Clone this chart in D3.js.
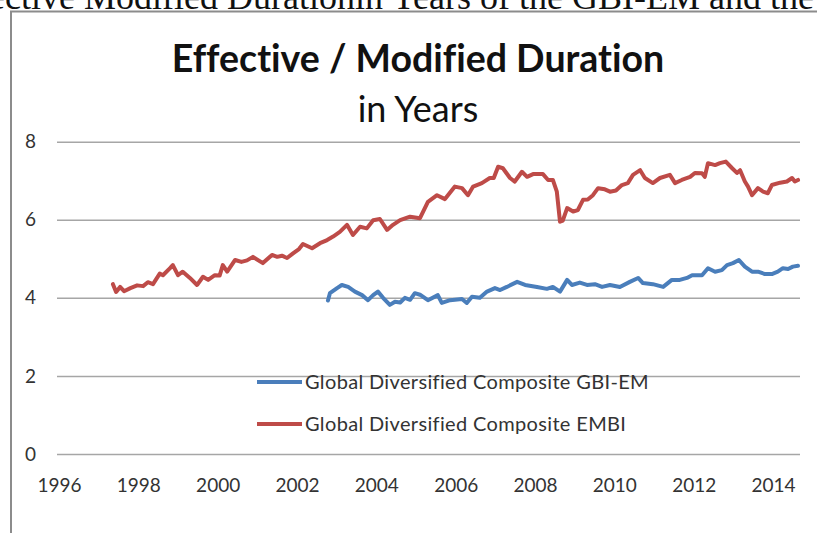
<!DOCTYPE html>
<html>
<head>
<meta charset="UTF-8">
<script src="https://d3js.org/d3.v7.min.js"></script>
<style>
  body { margin: 0; background: white; }
  text { font-family: Lato, "Open Sans", sans-serif; font-variant-ligatures: none; }
</style>
</head>
<body>
<svg id="chart" width="817" height="533"></svg>
<script>
// decimal years and durations
const embiYears = [1997.36,1997.44,1997.54,1997.64,1997.80,1997.97,1998.12,1998.24,1998.37,1998.54,1998.62,1998.80,1998.87,1999.00,1999.12,1999.30,1999.48,1999.63,1999.76,1999.93,2000.05,2000.13,2000.24,2000.44,2000.60,2000.74,2000.89,2001.14,2001.37,2001.50,2001.62,2001.75,2001.90,2002.05,2002.15,2002.38,2002.58,2002.76,2002.91,2003.08,2003.26,2003.41,2003.59,2003.76,2003.92,2004.09,2004.27,2004.42,2004.60,2004.85,2005.10,2005.30,2005.53,2005.73,2005.98,2006.16,2006.31,2006.44,2006.66,2006.86,2006.96,2007.07,2007.19,2007.37,2007.49,2007.67,2007.80,2007.95,2008.20,2008.33,2008.45,2008.55,2008.63,2008.70,2008.81,2008.96,2009.08,2009.21,2009.33,2009.46,2009.59,2009.76,2009.89,2010.04,2010.19,2010.34,2010.47,2010.65,2010.77,2010.97,2011.15,2011.40,2011.53,2011.70,2011.91,2012.03,2012.21,2012.28,2012.36,2012.54,2012.66,2012.81,2012.97,2013.09,2013.17,2013.29,2013.37,2013.47,2013.62,2013.75,2013.87,2013.97,2014.18,2014.35,2014.48,2014.55,2014.63];
const embiValues = [4.35,4.15,4.28,4.17,4.25,4.32,4.30,4.40,4.35,4.62,4.58,4.76,4.84,4.58,4.67,4.51,4.33,4.54,4.46,4.58,4.57,4.84,4.67,4.97,4.92,4.96,5.05,4.89,5.10,5.05,5.08,5.02,5.14,5.25,5.38,5.27,5.40,5.48,5.57,5.69,5.87,5.61,5.82,5.78,5.99,6.02,5.74,5.87,5.99,6.08,6.04,6.46,6.63,6.53,6.85,6.81,6.63,6.85,6.94,7.07,7.07,7.36,7.32,7.07,6.98,7.23,7.10,7.17,7.17,7.02,7.02,6.72,5.95,5.98,6.30,6.21,6.25,6.51,6.52,6.63,6.81,6.78,6.72,6.75,6.89,6.94,7.15,7.27,7.07,6.94,7.07,7.15,6.94,7.02,7.10,7.20,7.19,7.10,7.45,7.40,7.45,7.49,7.32,7.20,7.27,6.98,6.85,6.63,6.81,6.72,6.68,6.89,6.95,6.98,7.07,6.98,7.02];

const gbiYears = [2002.78,2002.83,2003.01,2003.13,2003.29,2003.46,2003.64,2003.79,2003.92,2004.04,2004.17,2004.34,2004.47,2004.60,2004.72,2004.85,2004.97,2005.10,2005.30,2005.55,2005.65,2005.86,2006.16,2006.28,2006.41,2006.61,2006.79,2006.99,2007.12,2007.29,2007.55,2007.75,2008.05,2008.30,2008.45,2008.63,2008.81,2008.93,2009.13,2009.31,2009.51,2009.69,2009.89,2010.14,2010.39,2010.60,2010.72,2010.97,2011.23,2011.45,2011.65,2011.83,2011.96,2012.21,2012.36,2012.54,2012.71,2012.84,2012.99,2013.14,2013.29,2013.47,2013.62,2013.80,2013.97,2014.12,2014.25,2014.38,2014.50,2014.63];
const gbiValues = [3.93,4.12,4.25,4.33,4.28,4.16,4.07,3.94,4.07,4.16,4.00,3.82,3.90,3.88,4.00,3.95,4.12,4.08,3.94,4.07,3.87,3.94,3.97,3.87,4.03,4.00,4.16,4.25,4.20,4.28,4.41,4.33,4.28,4.23,4.28,4.16,4.46,4.33,4.39,4.33,4.35,4.28,4.33,4.28,4.41,4.51,4.38,4.35,4.28,4.46,4.46,4.51,4.58,4.58,4.76,4.67,4.71,4.84,4.89,4.97,4.80,4.67,4.67,4.61,4.61,4.67,4.76,4.74,4.80,4.82];

const tickYears = [1996,1998,2000,2002,2004,2006,2008,2010,2012,2014];
const yTicks = [0,2,4,6,8];
const seriesNames = ["Global Diversified Composite GBI-EM", "Global Diversified Composite EMBI"];
const seriesColors = ["#4a7ebb", "#be4b48"];

const svg = d3.select("#chart");
const margin = { top: 141.7, right: 17, bottom: 79, left: 57 };
const width = 817, height = 533;

// page text above the chart (cut off at the top, as in the scan)
const pageText = svg.append("text")
    .attr("y", 9)
    .style("font-family", "'Liberation Serif', 'Times New Roman', serif")
    .style("font-size", "36px")
    .attr("fill", "#111");
const prefix = pageText.text("Effective Modified Durationin Years of the ").node().getComputedTextLength();
pageText.attr("x", 563 - prefix).text("Effective Modified Durationin Years of the GBI-EM and the EMBI");

// chart frame
svg.append("path")
    .attr("d", `M11,${height} V11.5 H${width}`)
    .attr("fill", "none")
    .attr("stroke", "#8c8c8c")
    .attr("stroke-width", 2);

const x = d3.scaleLinear().domain([1995.95, 2014.68]).range([margin.left, width - margin.right]);
const y = d3.scaleLinear().domain([0, 8]).range([454, margin.top]);

// gridlines + y labels
const yAxis = svg.append("g")
    .attr("transform", `translate(${margin.left},0)`)
    .call(d3.axisLeft(y).tickValues(yTicks).tickSize(-(x.range()[1] - margin.left)).tickPadding(21));
yAxis.select(".domain").remove();
yAxis.selectAll(".tick line").attr("stroke", "#a6a6a6").attr("stroke-width", 1.5);
yAxis.selectAll(".tick text").attr("fill", "#333").style("font-size", "19px").style("font-family", "Lato, sans-serif");

// x labels
const xAxis = svg.append("g")
    .attr("transform", `translate(0,454)`)
    .call(d3.axisBottom(x).tickValues(tickYears).tickSize(0).tickPadding(25).tickFormat(d3.format("d")));
xAxis.select(".domain").remove();
xAxis.selectAll(".tick text").attr("fill", "#333").style("font-size", "19px").style("font-family", "Lato, sans-serif");

const line = d3.line().x(d => x(d[0])).y(d => y(d[1])).curve(d3.curveLinear);

const series = [
    d3.zip(gbiYears, gbiValues),
    d3.zip(embiYears, embiValues)
];

svg.selectAll(".series")
    .data(series)
    .enter().append("path")
    .attr("class", "series")
    .attr("d", line)
    .attr("fill", "none")
    .attr("stroke", (d, i) => seriesColors[i])
    .attr("stroke-width", 4)
    .attr("stroke-linejoin", "round")
    .attr("stroke-linecap", "round");

// legend
const legend = svg.selectAll(".legend")
    .data(seriesNames)
    .enter().append("g")
    .attr("class", "legend")
    .attr("transform", (d, i) => `translate(257,${382 + i * 42})`);
legend.append("line")
    .attr("x1", 0).attr("x2", 45)
    .attr("stroke", (d, i) => seriesColors[i])
    .attr("stroke-width", 4);
legend.append("text")
    .attr("x", 48)
    .attr("dy", "0.35em")
    .attr("fill", "#333")
    .style("font-size", "20px")
    .style("letter-spacing", "0.35px")
    .text(d => d);

// titles
svg.append("text")
    .attr("x", 418).attr("y", 72)
    .attr("text-anchor", "middle")
    .style("font-size", "37.5px")
    .style("font-weight", "bold")
    .attr("fill", "#111")
    .text("Effective / Modified Duration");
svg.append("text")
    .attr("x", 418).attr("y", 122)
    .attr("text-anchor", "middle")
    .style("font-size", "36px")
    .attr("fill", "#111")
    .text("in Years");
</script>
</body>
</html>
